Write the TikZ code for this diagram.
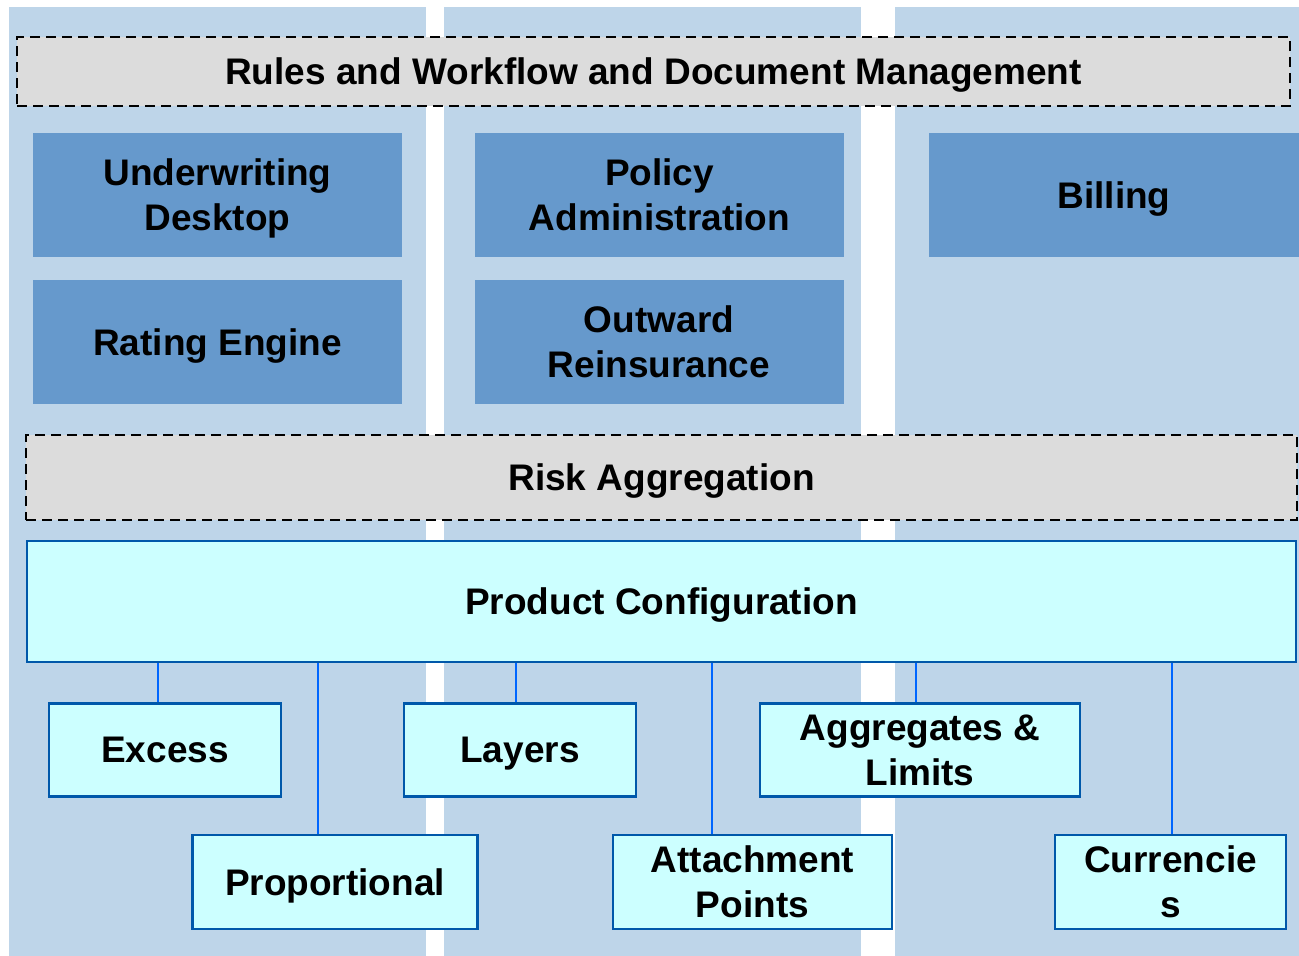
\documentclass[tikz,border=0pt]{standalone}
\usepackage{fontspec}
\setmainfont{Liberation Sans}
\definecolor{colbg}{RGB}{190,213,233}
\definecolor{modfill}{RGB}{102,153,204}
\definecolor{bandfill}{RGB}{220,220,220}
\definecolor{cfgfill}{RGB}{204,255,255}
\definecolor{cfgline}{RGB}{0,88,170}
\definecolor{linkblue}{RGB}{0,102,255}
\begin{document}
\begin{tikzpicture}[x=1pt,y=-1pt,
  every node/.style={font=\fontsize{37}{45}\selectfont\bfseries, align=center, inner sep=0pt, text depth=0pt},
  module/.style={fill=modfill, minimum width=369pt, minimum height=124pt},
  band/.style={fill=bandfill, draw=black, line width=2.4pt, dash pattern=on 10pt off 6pt},
  cfgbox/.style={fill=cfgfill, draw=cfgline, line width=2.2pt},
  link/.style={draw=linkblue, line width=2pt}]
\useasboundingbox (0,0) rectangle (1299,956);
% column backgrounds
\fill[colbg] (9,7) rectangle (426,956);
\fill[colbg] (444,7) rectangle (861,956);
\fill[colbg] (895,7) rectangle (1299,956);
% top band
\node[band, minimum width=1273pt, minimum height=69pt] (rules) at (653.5,71.5) {Rules and Workflow and Document Management};
% application modules
\node[module] (uw) at (217.5,195) {Underwriting\\Desktop};
\node[module] (pa) at (659.5,195) {Policy\\Administration};
\node[module, minimum width=370pt] (bill) at (1114,195) {Billing};
\node[module] (rate) at (217.5,342) {Rating Engine};
\node[module] (ri) at (659,342) {Outward\\Reinsurance};
% risk aggregation band
\node[band, minimum width=1271pt, minimum height=85pt] (risk) at (661.5,477.5) {Risk Aggregation};
% product configuration and its parts
\node[cfgbox, minimum width=1269pt, minimum height=121pt] (pc) at (661.5,601.5) {Product Configuration};
\node[cfgbox, minimum width=232pt, minimum height=93pt] (ex) at (165,750) {Excess};
\node[cfgbox, minimum width=232pt, minimum height=93pt] (lay) at (520,750) {Layers};
\node[cfgbox, minimum width=320pt, minimum height=93pt] (agg) at (920,750) {Aggregates \&\\Limits};
\node[cfgbox, minimum width=285pt, minimum height=94pt] (prop) at (335,882) {Proportional};
\node[cfgbox, minimum width=279pt, minimum height=94pt] (att) at (752.5,882) {Attachment\\Points};
\node[cfgbox, minimum width=231pt, minimum height=94pt] (cur) at (1170.5,882) {Currencie\\s};
% connectors from the configuration box
\draw[link] ([xshift=-7pt]ex.north) -- ([xshift=-7pt]ex.north |- pc.south);
\draw[link] ([xshift=-17pt]prop.north) -- ([xshift=-17pt]prop.north |- pc.south);
\draw[link] ([xshift=-4pt]lay.north) -- ([xshift=-4pt]lay.north |- pc.south);
\draw[link] ([xshift=-40.5pt]att.north) -- ([xshift=-40.5pt]att.north |- pc.south);
\draw[link] ([xshift=-4pt]agg.north) -- ([xshift=-4pt]agg.north |- pc.south);
\draw[link] ([xshift=1pt]cur.north) -- ([xshift=1pt]cur.north |- pc.south);
\end{tikzpicture}
\end{document}
